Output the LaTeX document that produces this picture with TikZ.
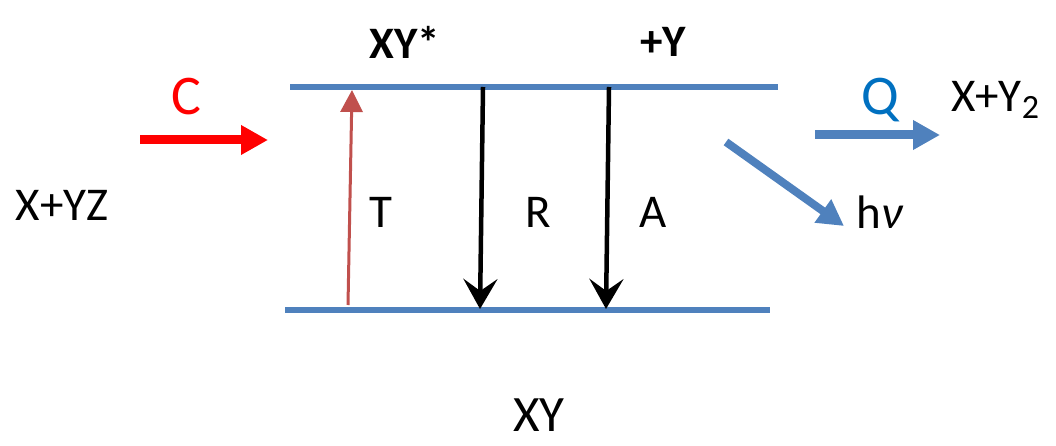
\documentclass[tikz,border=0pt]{standalone}
\usepackage{fontspec}
\setmainfont{Carlito}
\usetikzlibrary{arrows.meta}
\definecolor{lvl}{RGB}{79,129,189}
\definecolor{tred}{RGB}{192,80,77}
\definecolor{qblue}{RGB}{0,112,192}
\begin{document}
\begin{tikzpicture}[x=1pt,y=-1pt,
  lab/.style={font=\fontsize{47}{50}\selectfont,inner sep=0pt},
  boldlab/.style={font=\fontsize{45}{48}\selectfont\bfseries,inner sep=0pt},
  biglab/.style={font=\fontsize{56}{60}\selectfont,inner sep=0pt},
  level/.style={draw=lvl,line width=6pt},
  bigarrow/.style={line width=9pt,-{Triangle[length=27pt,width=28pt]}},
  darrow/.style={line width=4.5pt,-{Stealth[length=30pt,width=34pt,inset=12pt]}}]
\useasboundingbox (0,0) rectangle (1056,446);
\coordinate (t1) at (290,87); \coordinate (t2) at (778,87);
\coordinate (b1) at (285,310); \coordinate (b2) at (770,310);
\draw[level] (t1) -- (t2);
\draw[level] (b1) -- (b2);
% labels
\node[boldlab] (xys) at (405,42) {XY*};
\node[boldlab] (py) at (663,42) {+Y};
\node[lab] (xyz) at (62,205) {X+YZ};
\node[biglab,text=red] (c) at (186,97) {C};
\node[lab] (t) at (381,212) {T};
\node[lab] (r) at (538,212) {R};
\node[lab] (a) at (653,212) {A};
\node[biglab,text=qblue] (q) at (880,100) {Q};
\node[lab] (xy2) at (995,100) {X+Y\raisebox{-7pt}{\fontsize{34}{36}\selectfont 2}};
\node[lab] (hv) at (880,212) {h\textit{ν}};
\node[font=\fontsize{51}{54}\selectfont,inner sep=0pt,anchor=base] (xy) at (539,431) {XY};
% arrows
\coordinate (c1) at (140,140); \coordinate (c2) at (268,140);
\draw[bigarrow,red] (c1) -- (c2);
\coordinate (tt1) at (348,305); \coordinate (tt2) at (352,90);
\draw[tred,line width=3pt,-{Triangle[length=22pt,width=22pt]}] (tt1) -- (tt2);
\coordinate (r1) at (483,87); \coordinate (r2) at (480,309);
\draw[darrow] (r1) -- (r2);
\coordinate (a1) at (609,87); \coordinate (a2) at (606,309);
\draw[darrow] (a1) -- (a2);
\coordinate (q1) at (815,135); \coordinate (q2) at (940,135);
\draw[bigarrow,lvl] (q1) -- (q2);
\coordinate (h1) at (726,142); \coordinate (h2) at (844,226);
\draw[lvl,line width=8pt,-{Triangle[length=26pt,width=27pt]}] (h1) -- (h2);
\end{tikzpicture}
\end{document}
